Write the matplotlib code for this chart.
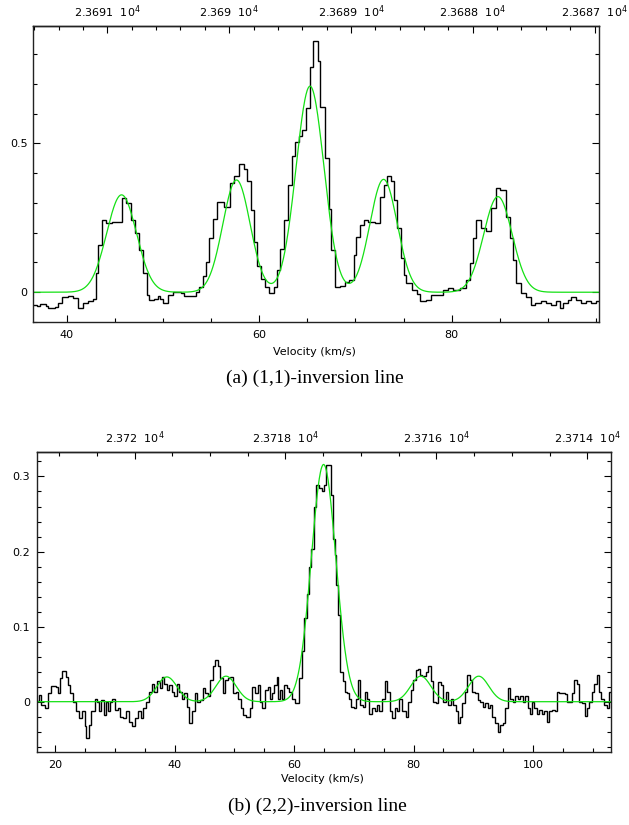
import numpy as np
import matplotlib
matplotlib.use('Agg')
import matplotlib.pyplot as plt
from matplotlib.ticker import MultipleLocator, FixedLocator, FuncFormatter

C_KMS = 299792.458
F0_11 = 23694.4955   # NH3 (1,1) rest frequency, MHz
F0_22 = 23722.6333   # NH3 (2,2) rest frequency, MHz

# ---- (1,1) spectrum: channel left edges (km/s) and brightness ----
v11 = [36.4, 36.9, 37.25, 37.8, 38.1, 38.8, 39.1, 39.5, 40.1, 40.7,
       41.2, 41.7, 42.2, 42.7, 43.0, 43.3, 43.7, 44.1, 44.7, 45.2,
       45.7, 46.13, 46.65, 47.07, 47.51, 47.9, 48.3, 48.6, 49.05, 49.5,
       49.7, 50.0, 50.5, 51.0, 51.45, 51.9, 52.2, 52.8, 53.4, 53.7,
       54.2, 54.5, 54.8, 55.2, 55.6, 56.3, 57.0, 57.4, 57.9, 58.4,
       58.7, 59.1, 59.5, 59.8, 60.2, 60.6, 61.0, 61.5, 61.8, 62.2,
       62.6, 63.0, 63.4, 63.7, 64.1, 64.4, 64.9, 65.3, 65.6, 66.1,
       66.3, 66.8, 67.2, 67.5, 67.9, 68.4, 68.9, 69.3, 69.8, 70.1,
       70.5, 70.85, 71.3, 72.0, 72.6, 72.95, 73.3, 73.7, 74.0, 74.3,
       74.7, 75.0, 75.3, 75.9, 76.35, 76.7, 77.37, 77.89, 78.58, 79.1,
       79.62, 80.14, 80.83, 81.53, 81.87, 82.21, 82.57, 83.08, 83.6, 84.12,
       84.64, 84.99, 85.68, 86.03, 86.37, 86.72, 87.24, 87.69, 88.28, 88.62,
       89.32, 89.84, 90.36, 90.88, 91.22, 91.57, 92.08, 92.43, 92.95, 93.47,
       93.99, 94.51, 95.03]
t11 = [-0.043, -0.045, -0.039, -0.046, -0.054, -0.048, -0.035, -0.015, -0.013, -0.020,
       -0.054, -0.035, -0.031, -0.024, 0.064, 0.159, 0.243, 0.234, 0.237, 0.236,
       0.315, 0.300, 0.243, 0.198, 0.142, 0.064, -0.009, -0.026, -0.024, -0.012,
       -0.023, -0.035, -0.009, 0.002, 0.000, -0.003, -0.012, -0.013, 0.002, 0.019,
       0.053, 0.103, 0.181, 0.245, 0.304, 0.285, 0.366, 0.390, 0.430, 0.415,
       0.375, 0.276, 0.170, 0.088, 0.043, 0.019, -0.003, 0.019, 0.075, 0.144,
       0.243, 0.360, 0.458, 0.506, 0.525, 0.545, 0.617, 0.757, 0.845, 0.778,
       0.623, 0.450, 0.280, 0.142, 0.019, 0.021, 0.036, 0.041, 0.125, 0.187,
       0.226, 0.243, 0.237, 0.234, 0.320, 0.360, 0.390, 0.375, 0.310, 0.215,
       0.114, 0.058, 0.030, 0.008, -0.005, -0.031, -0.026, -0.009, -0.010, 0.008,
       0.013, 0.008, 0.013, 0.041, 0.097, 0.181, 0.243, 0.215, 0.204, 0.282,
       0.349, 0.343, 0.254, 0.181, 0.108, 0.030, -0.003, -0.015, -0.043, -0.037,
       -0.031, -0.037, -0.043, -0.031, -0.054, -0.037, -0.026, -0.017, -0.026, -0.037,
       -0.031, -0.037, -0.031]
v11_end = 95.6

# (1,1) hyperfine fit: gaussian groups (centre km/s, peak, sigma km/s)
fit11_c = [45.7, 57.64, 65.28, 72.92, 84.8]
fit11_a = [0.327, 0.377, 0.692, 0.379, 0.321]
fit11_s = [1.55, 1.42, 1.45, 1.42, 1.48]

# ---- (2,2) spectrum ----
v22 = [16.8, 17.27, 17.66, 18.22, 18.77, 19.33, 20.06, 20.45, 20.84, 21.17,
       21.73, 22.06, 22.51, 22.96, 23.51, 23.96, 24.52, 24.91, 25.19, 25.63,
       26.02, 26.58, 26.97, 27.31, 27.7, 28.09, 28.42, 28.81, 29.2, 29.54,
       29.93, 30.49, 30.88, 31.32, 31.88, 32.33, 32.88, 33.44, 33.89, 34.39,
       34.78, 35.23, 35.78, 36.23, 36.62, 37.01, 37.46, 37.85, 38.29, 38.68,
       39.13, 39.58, 39.97, 40.36, 40.8, 41.25, 41.64, 42.03, 42.48, 42.92,
       43.37, 43.7, 44.2, 44.71, 45.15, 45.54, 45.99, 46.38, 46.83, 47.27,
       47.61, 48.05, 48.5, 48.85, 49.24, 49.8, 50.2, 50.64, 51.09, 51.48,
       51.88, 52.6, 53.0, 53.45, 53.9, 54.29, 54.68, 55.13, 55.57, 55.97,
       56.36, 56.69, 57.09, 57.37, 57.65, 58.04, 58.38, 58.77, 59.16, 59.61,
       60.17, 60.84, 61.29, 61.68, 62.13, 62.52, 62.86, 63.25, 63.64, 64.15,
       64.65, 64.93, 65.32, 66.11, 66.44, 66.78, 67.06, 67.34, 67.73, 68.12,
       68.46, 68.85, 69.24, 69.58, 69.97, 70.36, 70.7, 71.09, 71.48, 71.82,
       72.21, 72.61, 73.05, 73.5, 73.89, 74.29, 74.73, 75.18, 75.57, 75.97,
       76.41, 76.86, 77.25, 77.54, 78.1, 78.66, 79.1, 79.5, 79.89, 80.34,
       80.7, 81.09, 81.48, 82.0, 82.49, 82.88, 83.32, 83.72, 84.16, 84.61,
       85.0, 85.39, 85.84, 86.23, 86.68, 87.07, 87.4, 87.79, 88.18, 88.63,
       89.02, 89.47, 89.86, 90.31, 90.7, 91.15, 91.54, 91.98, 92.43, 92.82,
       93.21, 93.66, 94.11, 94.5, 94.89, 95.34, 95.78, 96.17, 96.56, 97.01,
       97.46, 97.85, 98.24, 98.69, 99.08, 99.53, 99.8, 100.2, 100.64, 101.03,
       101.48, 101.87, 102.32, 102.71, 103.16, 103.6, 103.99, 104.39, 104.83, 105.28,
       105.67, 106.06, 106.51, 106.9, 107.35, 107.74, 108.18, 108.63, 109.02, 109.41,
       109.86, 110.25, 110.7, 110.98, 111.37, 111.82, 112.37, 112.77]
t22 = [0.001, 0.009, -0.004, -0.009, 0.011, 0.021, 0.020, 0.011, 0.031, 0.041,
       0.033, 0.022, 0.011, 0.0, -0.013, -0.022, -0.013, -0.033, -0.049, -0.031,
       -0.013, 0.004, 0.0, -0.013, 0.002, -0.018, 0.0, -0.013, 0.0, 0.004,
       -0.011, -0.009, -0.020, -0.022, -0.013, -0.027, -0.032, -0.022, -0.013, -0.022,
       -0.009, 0.0, 0.013, 0.024, 0.013, 0.027, 0.018, 0.033, 0.024, 0.016,
       0.022, 0.013, 0.007, 0.024, 0.013, 0.004, 0.011, -0.007, -0.029, -0.013,
       0.011, 0.0, 0.002, 0.018, 0.011, 0.007, 0.029, 0.047, 0.055, 0.047,
       0.031, 0.012, 0.029, 0.031, 0.033, 0.011, 0.013, 0.004, -0.009, -0.018,
       -0.020, -0.009, 0.020, 0.011, 0.022, 0.0, -0.009, 0.016, 0.020, 0.004,
       0.011, 0.022, 0.033, 0.004, 0.016, 0.004, 0.022, 0.018, 0.013, 0.004,
       -0.002, 0.031, 0.067, 0.111, 0.144, 0.180, 0.204, 0.260, 0.289, 0.285,
       0.280, 0.289, 0.315, 0.275, 0.217, 0.195, 0.155, 0.115, 0.040, 0.027,
       0.013, 0.011, 0.004, -0.007, -0.009, 0.004, 0.029, -0.004, -0.007, 0.013,
       0.004, -0.016, -0.009, -0.013, -0.004, -0.013, 0.004, 0.027, 0.013, -0.013,
       -0.022, -0.009, -0.013, 0.004, -0.013, -0.020, 0.0, 0.016, 0.029, 0.042,
       0.044, 0.036, 0.034, 0.040, 0.047, 0.027, 0.0, -0.002, 0.026, 0.022,
       0.0, 0.013, -0.004, 0.004, -0.004, -0.013, -0.029, -0.020, -0.002, 0.013,
       0.036, 0.029, 0.013, 0.011, 0.002, 0.0, -0.007, -0.002, -0.009, -0.004,
       -0.020, -0.029, -0.040, -0.031, -0.028, -0.009, 0.018, 0.004, 0.0, 0.007,
       0.004, 0.007, 0.0, 0.007, -0.009, -0.016, 0.0, -0.009, -0.016, -0.011,
       -0.016, -0.013, -0.027, -0.013, -0.011, -0.013, 0.013, 0.011, 0.012, 0.010,
       0.0, 0.0, 0.011, 0.029, 0.024, 0.0, -0.002, -0.019, -0.009, 0.0,
       0.013, 0.024, 0.036, 0.013, 0.004, -0.004, -0.009, 0.013]
v22_end = 113.3

fit22_c = [38.7, 48.6, 64.93, 81.2, 90.9]
fit22_a = [0.033, 0.034, 0.316, 0.034, 0.034]
fit22_s = [1.7, 1.7, 2.05, 1.7, 1.7]

# top (frequency) axis ticks, MHz
top11_ticks = [23691, 23690, 23689, 23688, 23687]
top11_labels = ['2.3691', '2.369', '2.3689', '2.3688', '2.3687']
top22_ticks = [23720, 23718, 23716, 23714]
top22_labels = ['2.372', '2.3718', '2.3716', '2.3714']

plt.rcParams['font.family'] = 'DejaVu Sans'
plt.rcParams['mathtext.fontset'] = 'dejavusans'

fig = plt.figure(figsize=(6.29, 8.25), dpi=100)


def draw_panel(rect, v, t, v_end, fc, fa, fs, f0, xlim, ylim, ymaj, ymin,
               fticks, flabels, fminor, ylabpad, xlab_y):
    ax = fig.add_axes(rect)
    edges = list(v) + [v_end]
    ax.stairs(t, edges, baseline=None, color='black', lw=1.0)
    x = np.linspace(xlim[0], xlim[1], 1500)
    model = np.zeros_like(x)
    for c, a, s in zip(fc, fa, fs):
        model += a * np.exp(-0.5 * ((x - c) / s) ** 2)
    ax.plot(x, model, color='#14e014', lw=0.9)
    ax.set_xlim(*xlim)
    ax.set_ylim(*ylim)

    ax.xaxis.set_major_locator(MultipleLocator(20))
    ax.xaxis.set_minor_locator(MultipleLocator(5))
    ax.yaxis.set_major_locator(MultipleLocator(ymaj))
    ax.yaxis.set_minor_locator(MultipleLocator(ymin))
    ax.yaxis.set_major_formatter(FuncFormatter(lambda y, p: f'{y:g}'))
    ax.tick_params(which='both', direction='in', top=False, right=True,
                   labelsize=8, width=0.8)
    ax.tick_params(which='major', length=5)
    ax.tick_params(which='minor', length=2.8)
    ax.tick_params(axis='x', pad=6)
    ax.tick_params(axis='y', pad=ylabpad)
    for sp in ax.spines.values():
        sp.set_linewidth(1.0)
        sp.set_color('#222222')

    sec = ax.secondary_xaxis('top', functions=(lambda vv: f0 * (1 - vv / C_KMS),
                                               lambda ff: C_KMS * (1 - ff / f0)))
    sec.xaxis.set_major_locator(FixedLocator(fticks))
    sec.xaxis.set_major_formatter(FuncFormatter(
        lambda val, pos: dict(zip(fticks, flabels)).get(round(val), '') + r'  $10^4$'))
    sec.xaxis.set_minor_locator(MultipleLocator(fminor))
    sec.tick_params(which='both', direction='in', labelsize=8, width=0.8, pad=4)
    sec.tick_params(which='major', length=5)
    sec.tick_params(which='minor', length=2.8)
    sec.spines['top'].set_linewidth(1.0)

    ax.set_xlabel('Velocity (km/s)', fontsize=8)
    ax.xaxis.set_label_coords(0.498, xlab_y)
    return ax


# panel (a)
draw_panel([33 / 629, 1 - 322 / 825, 566 / 629, 296 / 825],
           v11, t11, v11_end, fit11_c, fit11_a, fit11_s, F0_11,
           (36.5, 95.3), (-0.1, 0.894), 0.5, 0.1,
           top11_ticks, top11_labels, 0.2, 4, -0.083)

# panel (b)
draw_panel([36.7 / 629, 1 - 751.7 / 825, 574 / 629, 300 / 825],
           v22, t22, v22_end, fit22_c, fit22_a, fit22_s, F0_22,
           (16.9, 113.0), (-0.0666, 0.333), 0.1, 0.02,
           top22_ticks, top22_labels, 0.5, 5, -0.075)

fig.text(0.5, 1 - 378 / 825, '(a) (1,1)-inversion line', ha='center', va='center',
         family='Liberation Serif', fontsize=14)
fig.text(0.505, 1 - 806 / 825, '(b) (2,2)-inversion line', ha='center', va='center',
         family='Liberation Serif', fontsize=14)

fig.savefig('out.png', dpi=100)
